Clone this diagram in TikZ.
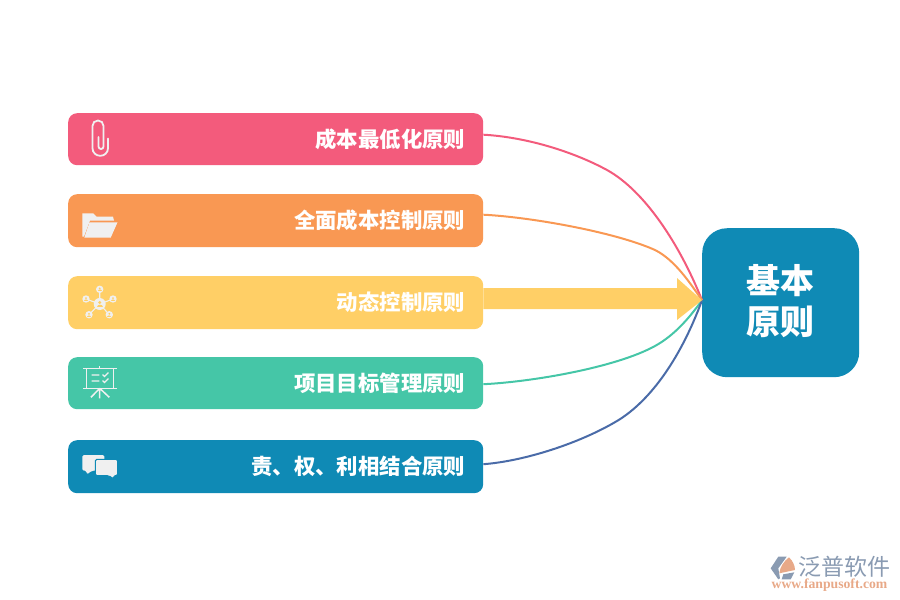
\documentclass[tikz,border=0pt]{standalone}
\usepackage{fontspec}
\setmainfont{Noto Sans CJK SC}
\newfontfamily\urlfont{Liberation Serif}
\usetikzlibrary{calc}
\definecolor{cpink}{HTML}{F35B7C}
\definecolor{corange}{HTML}{F99853}
\definecolor{cyellow}{HTML}{FFCF66}
\definecolor{cgreen}{HTML}{45C6A7}
\definecolor{cblue}{HTML}{0F8AB5}
\definecolor{cline}{HTML}{4A6BA8}
\definecolor{cicon}{HTML}{F0F0F0}
\definecolor{clogo}{HTML}{8A9BB2}
\definecolor{clogoo}{HTML}{E8A988}
\newcommand\rowtxt[1]{\raisebox{1pt}{#1}}
\tikzset{
  x=1pt,y=-1pt,
  rowbox/.style={anchor=north west,minimum width=415pt,rounded corners=9pt,inner sep=0pt,
    text=white,font=\bfseries\fontsize{21.4}{25}\selectfont,align=right,text width=379pt},
  hubbox/.style={anchor=north west,minimum width=157pt,minimum height=149pt,rounded corners=25pt,
    fill=cblue,inner sep=0pt},
  hubtext/.style={text=white,inner sep=0pt,align=center,font=\bfseries\fontsize{34}{41}\selectfont},
  curve/.style={line width=2pt},
  iconline/.style={draw=cicon,line width=1.4pt},
  iconfill/.style={fill=cicon},
}
\begin{document}
\begin{tikzpicture}
\useasboundingbox (0,0) rectangle (900,600);
\node[rowbox,fill=cpink,minimum height=52pt] (b1) at (68,113) {\rowtxt{成本最低化原则}};
\node[rowbox,fill=corange,minimum height=53pt] (b2) at (68,194) {\rowtxt{全面成本控制原则}};
\node[rowbox,fill=cyellow,minimum height=53pt] (b3) at (68,276) {\rowtxt{动态控制原则}};
\node[rowbox,fill=cgreen,minimum height=52pt] (b4) at (68,357) {\rowtxt{项目目标管理原则}};
\node[rowbox,fill=cblue,minimum height=53pt] (b5) at (68,440) {\rowtxt{责、权、利相结合原则}};
\node[hubbox] (hub) at (702,228) {};
\node[hubtext] (hublabel) at ($(hub.center)+(0,-2)$) {基本\\原则};
\coordinate (tip) at ($(hub.west)+(0,-2.5)$);
\coordinate (s1) at ($(b1.east)+(0,-4.5)$);
\coordinate (s2) at ($(b2.east)+(0,-6)$);
\coordinate (s3) at ($(b3.east)+(0,-3)$);
\coordinate (s4) at ($(b4.east)+(0,1)$);
\coordinate (s5) at ($(b5.east)+(0,-2.5)$);
% connectors
\draw[curve,cpink] (s1) .. controls (525,137) and (572,151) .. (607,170) .. controls (645,191) and (680,245) .. (tip);
\draw[curve,corange] (s2) .. controls (530,217) and (615,232) .. (655,250) .. controls (675,260) and (690,283) .. (tip);
\draw[curve,cgreen] (s4) .. controls (530,382) and (615,368) .. (655,346) .. controls (675,335) and (690,317) .. (tip);
\draw[curve,cline] (s5) .. controls (525,461) and (580,443) .. (617,421) .. controls (652,400) and (682,355) .. (tip);
\fill[cyellow] (s3 |- 0,288) -- (677,288) -- (677,278) -- (tip) -- (677,320) -- (677,309) -- (s3 |- 0,309) -- cycle;
% paper clip
\draw[iconline,line width=1.8pt,line cap=round,rounded corners=7.6pt] (108,138.5) -- (108,155.8) -- (92.5,155.8) [rounded corners=5.4pt] -- (92.5,120.5) -- (103.5,120.5) [rounded corners=2.5pt] -- (103.5,149) -- (98.5,149) -- (98.5,137);
% folder
\fill[iconfill] (82.3,213.3) -- (93.3,213.3) -- (96.7,216.7) -- (113,216.7) -- (114,220.5) -- (90,220.5) -- (84,236.5) -- (82.3,236.5) -- cycle;
\fill[iconfill] (89.5,222.3) -- (117.5,222.3) -- (110.7,237.7) -- (84.3,237.7) -- cycle;
% network
\draw[iconline,line width=1.1pt] (99.7,304) -- (99.7,289.3) (99.7,304) -- (86,299) (99.7,304) -- (113,299) (99.7,304) -- (89,314.7) (99.7,304) -- (109.3,314.7);
\foreach \cx/\cy/\r in {99.7/304/6,99.7/289.3/3.7,86/299/3.7,113/299/3.7,89/314.7/3.7,109.3/314.7/3.7}{
  \fill[iconfill] (\cx,\cy) circle[radius=\r];
  \fill[cyellow] (\cx,\cy-0.25*\r) circle[radius=0.27*\r];
  \fill[cyellow] (\cx-0.5*\r,\cy+0.55*\r) .. controls (\cx-0.5*\r,\cy+0.02*\r) and (\cx+0.5*\r,\cy+0.02*\r) .. (\cx+0.5*\r,\cy+0.55*\r) -- cycle;
}
% board
\draw[iconline,line width=1.5pt] (83.3,368.3) -- (116.7,368.3) (83.3,388.3) -- (116.7,388.3) (86.7,368.3) -- (86.7,388.3) (113.3,368.3) -- (113.3,388.3) (99.7,366) -- (99.7,368.3);
\draw[iconline,line width=1.5pt] (99.7,388.3) -- (99.7,398.3) (99.7,388.3) -- (91,397.3) (99.7,388.3) -- (109.3,397.3);
\draw[iconline,line width=1.1pt] (91.7,375) -- (99.3,375) (91.7,381) -- (99.3,381) (102.5,374.5) -- (104.5,376.5) -- (108.5,372.5) (102.5,380.5) -- (104.5,382.5) -- (108.5,378.5);
% chat
\fill[iconfill,rounded corners=1.5pt] (82.3,455) -- (104.3,455) -- (104.3,470.7) -- (92,470.7) -- (86.7,474.5) -- (86.7,470.7) -- (82.3,470.7) -- cycle;
\fill[iconfill,rounded corners=1.5pt,draw=cblue,line width=1pt] (95.3,459.3) -- (117.7,459.3) -- (117.7,475.7) -- (113.5,475.7) -- (113.5,479) -- (109,475.7) -- (95.3,475.7) -- cycle;
% logo
\fill[clogo] (778.3,556.7) -- (786.7,556.7) -- (778.3,568.3) -- (780,578.3) -- (778.3,579.3) -- (770.7,568.3) -- cycle;
\fill[clogo] (783.3,574.3) -- (794.3,572.3) -- (790.7,579.3) -- (781.7,579.3) -- cycle;
\fill[clogoo] (789,557.3) .. controls (793,561) and (795,566) .. (795,570) -- (779.3,573.3) .. controls (780,567) and (784,561) .. cycle;
\node[anchor=west,inner sep=0pt,text=clogo,font=\fontsize{23}{26}\selectfont] (logotext) at (798,567) {泛普软件};
\node[anchor=west,inner sep=0pt,text=clogoo,font=\urlfont\bfseries\fontsize{13.7}{15}\selectfont] (logourl) at (771.5,585) {www.fanpusoft.com};
\end{tikzpicture}
\end{document}
